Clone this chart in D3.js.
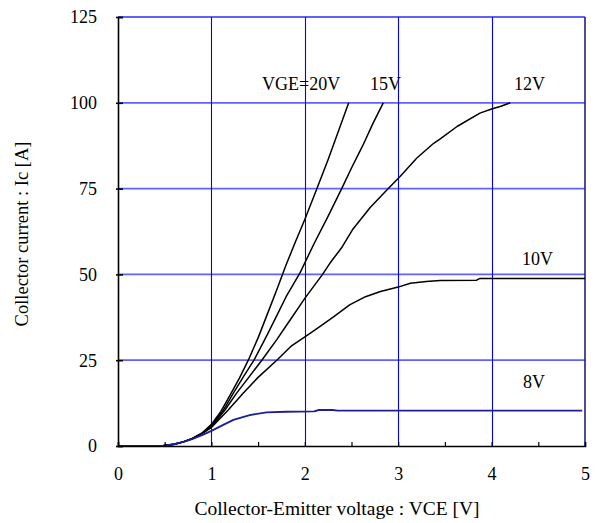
<!DOCTYPE html>
<html>
<head>
<meta charset="utf-8">
<script src="https://cdn.jsdelivr.net/npm/d3@7"></script>
<style>
  html, body { margin: 0; padding: 0; background: #fff; }
  svg { display: block; }
  text { font-family: "Liberation Serif", "Times New Roman", serif; fill: #000; }
</style>
</head>
<body>
<svg id="chart" width="597" height="523"></svg>
<script>
// ---- data (VCE [V], Ic [A]) ----
const xTicks = [0, 1, 2, 3, 4, 5];
const yTicks = [0, 25, 50, 75, 100, 125];

const vge20 = [[0,0],[0.45,0],[0.5,0.15],[0.6,0.5],[0.7,1.2],[0.8,2.3],[0.9,3.8],[1.0,6.3],[1.1,10],[1.2,14.8],[1.3,19.8],[1.395,25],[1.5,31.5],[1.6,38.5],[1.7,45.5],[1.8,52.8],[1.9,59.5],[2.0,66],[2.13,75],[2.25,83.5],[2.35,91],[2.47,100]];
const vge15 = [[0,0],[0.45,0],[0.5,0.15],[0.6,0.5],[0.7,1.2],[0.8,2.2],[0.9,3.7],[1.0,6.0],[1.13,10.5],[1.235,15.4],[1.35,20.5],[1.456,25],[1.6,32.5],[1.7,38],[1.8,43.5],[1.95,50.5],[2.1,59],[2.25,67],[2.395,75],[2.5,81],[2.62,87.5],[2.73,94],[2.84,100]];
const vge12 = [[0,0],[0.45,0],[0.5,0.15],[0.6,0.5],[0.7,1.2],[0.8,2.2],[0.9,3.6],[1.0,5.6],[1.145,10.5],[1.27,15.4],[1.4,20],[1.54,25],[1.7,31],[1.85,37],[2.0,43],[2.19,50],[2.27,53.3],[2.4,58],[2.51,63],[2.7,69.5],[2.894,75],[3.02,78.5],[3.2,83.9],[3.38,88.2],[3.45,89.5],[3.63,93.1],[3.875,97],[4.0,98.2],[4.1,99],[4.2,100]];
const vge10 = [[0,0],[0.45,0],[0.5,0.15],[0.6,0.5],[0.7,1.2],[0.8,2.2],[0.9,3.6],[1.0,5.4],[1.18,10.5],[1.34,15.4],[1.5,20],[1.7,25],[1.85,29],[2.06,32.9],[2.16,34.8],[2.3,37.5],[2.48,41.1],[2.65,43.5],[2.81,45],[3.0,46.3],[3.13,47.4],[3.3,47.9],[3.45,48.2],[3.84,48.3],[3.87,48.8],[5.0,48.8]];
const vge8  = [[0,0],[0.45,0],[0.5,0.1],[0.6,0.5],[0.7,1.2],[0.8,2.1],[0.9,3.2],[1.0,4.4],[1.1,5.8],[1.235,7.6],[1.41,9.0],[1.59,9.8],[1.8,10.0],[2.1,10.1],[2.15,10.5],[2.3,10.5],[2.35,10.3],[4.97,10.3]];

const seriesNames = ["VGE=20V", "15V", "12V", "10V", "8V"];
const seriesData  = [vge20, vge15, vge12, vge10, vge8];
const seriesColors = ["#000000", "#000000", "#000000", "#000000", "#1e1e96"];

// ---- layout ----
const svg = d3.select("#chart");
const L = 118, R = 585, T = 17, B = 446;
const x = d3.scaleLinear().domain([0, 5]).range([L, R]);
const y = d3.scaleLinear().domain([0, 125]).range([B, T]);
// label anchor points (pixels, left/baseline)
const labelXY = [[262, 90], [370, 90], [514, 90], [522, 265], [523, 388]];

// gridlines
const grid = svg.append("g");
grid.selectAll("line.h").data(yTicks.filter(d => d > 0)).enter().append("line")
  .attr("x1", L).attr("x2", R)
  .attr("y1", d => y(d)).attr("y2", d => y(d))
  .attr("stroke", "#0000ff").attr("stroke-opacity", 0.62).attr("stroke-width", 1.8);
grid.selectAll("line.v").data(xTicks.filter(d => d > 0 && d < 5)).enter().append("line")
  .attr("x1", d => Math.round(x(d)) + 0.5).attr("x2", d => Math.round(x(d)) + 0.5)
  .attr("y1", T).attr("y2", B)
  .attr("stroke", "#0000ff").attr("stroke-width", 1.1);
// right border
svg.append("line").attr("x1", R).attr("x2", R).attr("y1", T).attr("y2", B)
  .attr("stroke", "#202080").attr("stroke-width", 1.6);

// curves
const line = d3.line().x(d => x(d[0])).y(d => y(d[1]));
svg.append("g").selectAll("path").data(seriesData).enter().append("path")
  .attr("d", line)
  .attr("fill", "none")
  .attr("stroke", (d, i) => seriesColors[i])
  .attr("stroke-width", (d, i) => i === 4 ? 1.9 : 1.5)
  .attr("stroke-linejoin", "round");

// axes
const yAxis = d3.axisLeft(y).tickValues(yTicks).tickSize(-5).tickPadding(21).tickFormat(d3.format("d"));
const gy = svg.append("g").attr("transform", `translate(${L},0)`).call(yAxis);
gy.select(".domain").attr("stroke", "#000").attr("stroke-width", 1.6);
gy.selectAll(".tick line").attr("stroke", "#000").attr("stroke-width", 1.6).attr("x1", -2);
gy.selectAll(".tick text").attr("font-size", 18).attr("font-family", "Liberation Serif").attr("dy", "0.33em");

const xAxis = d3.axisBottom(x).tickValues(d3.range(0, 5.01, 0.5)).tickSize(-4)
  .tickFormat(d => Number.isInteger(d) ? d : "");
const gx = svg.append("g").attr("transform", `translate(0,${B})`).call(xAxis);
gx.select(".domain").attr("stroke", "#000").attr("stroke-width", 1.6);
gx.selectAll(".tick line").attr("stroke", "#000").attr("stroke-width", 1.2);
gx.selectAll(".tick text").attr("font-size", 18).attr("font-family", "Liberation Serif")
  .attr("y", 34).attr("dy", 0);

// series labels
svg.append("g").selectAll("text").data(seriesNames).enter().append("text")
  .attr("x", (d, i) => labelXY[i][0])
  .attr("y", (d, i) => labelXY[i][1])
  .attr("text-anchor", "start")
  .attr("font-size", 18)
  .text(d => d);

// axis titles
svg.append("text").attr("x", 337).attr("y", 515).attr("text-anchor", "middle")
  .attr("font-size", 19.5)
  .text("Collector-Emitter voltage : VCE [V]");
svg.append("text").attr("transform", "translate(28,234) rotate(-90)")
  .attr("text-anchor", "middle").attr("font-size", 18.5)
  .text("Collector current : Ic [A]");
</script>
</body>
</html>
